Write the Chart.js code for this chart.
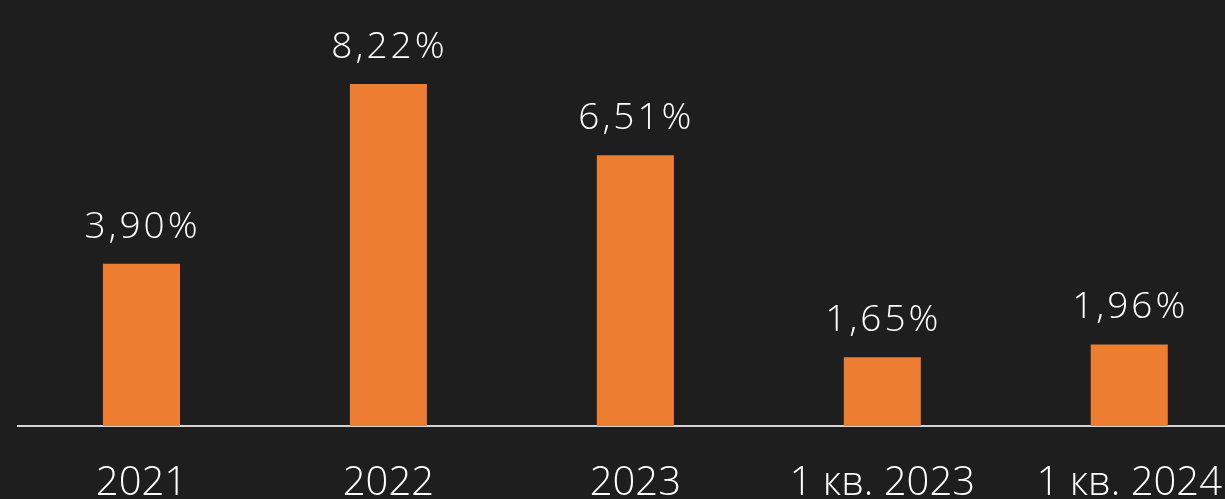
<!DOCTYPE html>
<html>
<head>
<meta charset="utf-8">
<script src="https://cdn.jsdelivr.net/npm/chart.js@4"></script>
<style>
  html, body { margin:0; padding:0; background:#1e1e1e; overflow:hidden; }
  #wrap { width:1256px; height:499px; position:relative; }
</style>
</head>
<body>
<div id="wrap"><canvas id="chart"></canvas></div>
<script>
// values
const categories = ['2021', '2022', '2023', '1 кв. 2023', '1 кв. 2024'];
const values = [3.90, 8.22, 6.51, 1.65, 1.96];
const valueLabels = ['3,90%', '8,22%', '6,51%', '1,65%', '1,96%'];

const ORANGE = '#ed7d31';
const FONT = '"Open Sans", sans-serif';

// value text above each bar
const barLabels = {
  id: 'barLabels',
  afterDatasetsDraw(chart){
    const ctx = chart.ctx;
    const meta = chart.getDatasetMeta(0);
    ctx.save();
    ctx.letterSpacing = '3px';
    ctx.fillStyle = '#ffffff';
    ctx.font = '300 37px ' + FONT;
    ctx.textAlign = 'center';
    ctx.textBaseline = 'alphabetic';
    meta.data.forEach((bar, i) => {
      ctx.fillText(valueLabels[i], bar.x + 1, bar.y - 26);
    });
    ctx.restore();
  }
};

new Chart(document.getElementById('chart'), {
  type: 'bar',
  data: {
    labels: categories,
    datasets: [{ data: values, backgroundColor: ORANGE, borderWidth: 0,
                 barPercentage: 0.312, categoryPercentage: 1 }]
  },
  options: {
    responsive: true,
    maintainAspectRatio: false,
    animation: false,
    layout: { padding: { left: 18, right: 0, top: 10, bottom: 0 } },
    plugins: { legend: { display: false }, tooltip: { enabled: false } },
    scales: {
      y: { display: false, min: 0, max: 10 },
      x: {
        grid: { display: false, drawTicks: false },
        border: { display: true, color: '#d4d4d4', width: 2 },
        ticks: { color: '#ffffff', font: { family: FONT, size: 40, weight: 300 }, padding: 34, maxRotation: 0, autoSkip: false },
        afterFit(scale){ scale.height = 73; }
      }
    }
  },
  plugins: [barLabels]
});
</script>
</body>
</html>
